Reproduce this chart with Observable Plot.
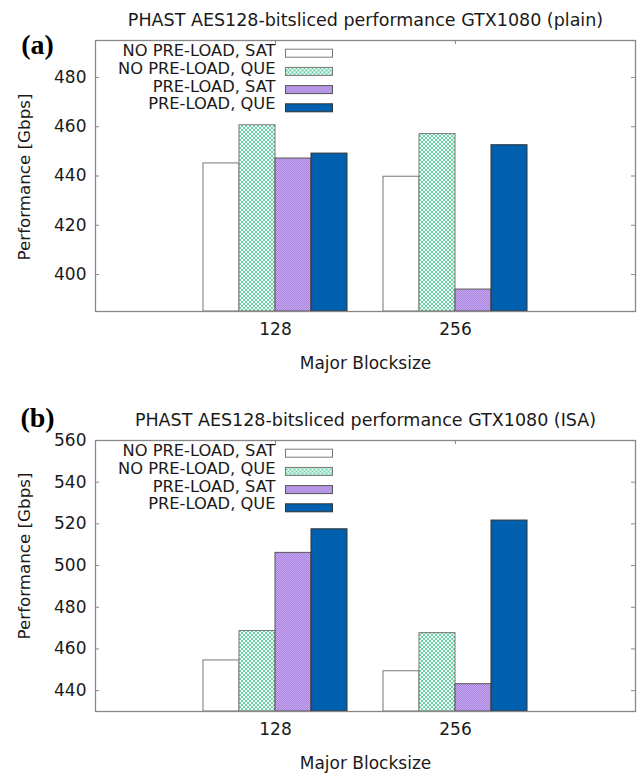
<!DOCTYPE html>
<html>
<head>
<meta charset="utf-8">
<script src="https://cdn.jsdelivr.net/npm/d3@7"></script>
<script src="https://cdn.jsdelivr.net/npm/@observablehq/plot@0.6"></script>
<style>
  body { margin: 0; background: #fff; width: 640px; }
  svg { display: block; }
</style>
</head>
<body>
<div id="chart"></div>
<script>
// ---------- data ----------
const blocksizes = ["128", "256"];
const seriesNames = ["NO PRE-LOAD, SAT", "NO PRE-LOAD, QUE", "PRE-LOAD, SAT", "PRE-LOAD, QUE"];

const plainNoPreloadSat = [445.1, 439.7];
const plainNoPreloadQue = [460.6, 457.0];
const plainPreloadSat   = [447.1, 393.9];
const plainPreloadQue   = [449.1, 452.5];

const isaNoPreloadSat = [454.5, 449.3];
const isaNoPreloadQue = [468.6, 467.6];
const isaPreloadSat   = [506.1, 443.1];
const isaPreloadQue   = [517.4, 521.6];

const plainYTicks = [400, 420, 440, 460, 480];
const isaYTicks = [440, 460, 480, 500, 520, 540, 560];
const plainYDomain = [385, 495];
const isaYDomain = [430, 560];

const plainTitle = "PHAST AES128-bitsliced performance GTX1080 (plain)";
const isaTitle = "PHAST AES128-bitsliced performance GTX1080 (ISA)";
const xLabel = "Major Blocksize";
const yLabel = "Performance [Gbps]";

// ---------- styling ----------
const FONT = "DejaVu Sans";
const TEXT = "#1a1a1a";
const AXIS = "#888";

function patternDefs(p) {
  // green crosshatch lattice (4x4) on white
  let green = `<rect width="4" height="4" fill="#f4fcf8"/>`;
  for (let i = 0; i < 4; i++) {
    green += `<rect x="${i}" y="${i}" width="1" height="1" fill="#6fd3aa"/>`;
    green += `<rect x="${3 - i}" y="${i}" width="1" height="1" fill="#6fd3aa"/>`;
  }
  // purple fine checker, low contrast
  const purple = `<rect width="2" height="2" fill="#c6a8f0"/>` +
    `<rect x="0" y="0" width="1" height="1" fill="#a983de"/>` +
    `<rect x="1" y="1" width="1" height="1" fill="#a983de"/>`;
  return `<pattern id="${p}-green" x="0" y="0" width="4" height="4" patternUnits="userSpaceOnUse">${green}</pattern>` +
         `<pattern id="${p}-purple" x="0" y="0" width="2" height="2" patternUnits="userSpaceOnUse">${purple}</pattern>`;
}

function makePanel(cfg) {
  const p = cfg.id;
  const fills = ["#ffffff", `url(#${p}-green)`, `url(#${p}-purple)`, "#0060ad"];
  const strokes = ["#777", "#777", "#555", "#333"];
  const rows = [];
  cfg.values.forEach((vals, s) => vals.forEach((v, g) => rows.push({g, s, value: v})));
  const nS = seriesNames.length;
  const barW = 1 / (nS + 1);
  const frameH = cfg.height - cfg.marginTop - cfg.marginBottom;
  const frameW = 640 - 95 - 5;

  const marks = [];
  // inward ticks on all four sides
  marks.push(Plot.tickY(cfg.yTicks, {y: d => d, stroke: AXIS, insetRight: frameW - 4}));
  marks.push(Plot.tickY(cfg.yTicks, {y: d => d, stroke: AXIS, insetLeft: frameW - 4}));
  marks.push(Plot.tickX([0, 1], {x: d => d, stroke: AXIS, insetBottom: frameH - 4}));
  marks.push(Plot.tickX([0, 1], {x: d => d, stroke: AXIS, insetTop: frameH - 4}));
  // clustered bars, one mark per series
  seriesNames.forEach((name, s) => {
    marks.push(Plot.rectY(rows.filter(r => r.s === s), {
      x1: r => r.g + (r.s - (nS - 1) / 2 - 0.5) * barW,
      x2: r => r.g + (r.s - (nS - 1) / 2 + 0.5) * barW,
      y1: cfg.yDomain[0],
      y2: "value",
      fill: fills[s],
      stroke: strokes[s],
      strokeWidth: 1
    }));
  });
  // frame
  marks.push(Plot.frame({stroke: AXIS, strokeWidth: 1.3}));
  // axes
  marks.push(Plot.axisY(cfg.yTicks, {tickSize: 0, tickPadding: 9, label: null, fontSize: 17, fill: TEXT}));
  marks.push(Plot.axisX([0, 1], {tickFormat: i => blocksizes[i], tickSize: 0, tickPadding: 11, label: null, fontSize: 17, fill: TEXT}));
  // legend (key box inside the frame)
  seriesNames.forEach((name, i) => {
    marks.push(Plot.text([name], {frameAnchor: "top-left", dx: 180, dy: 10 + 17.9 * i,
      textAnchor: "end", lineAnchor: "middle", fontSize: 16.3, fill: TEXT}));
    const top = 8.7 + 18.2 * i;
    marks.push(Plot.frame({fill: fills[i], stroke: strokes[i], strokeWidth: 1,
      insetLeft: 190, insetRight: frameW - 237, insetTop: top, insetBottom: frameH - top - 8}));
  });
  // titles & labels
  marks.push(Plot.text([cfg.title], {frameAnchor: "top", dy: -20, lineAnchor: "middle", fontSize: 17.5, fill: TEXT}));
  marks.push(Plot.text([cfg.panelLabel], {frameAnchor: "top-left", dx: -58, dy: cfg.panelDy,
    textAnchor: "middle", lineAnchor: "middle", fontFamily: "Liberation Serif", fontWeight: "bold", fontSize: 28, fill: "#000"}));
  marks.push(Plot.text([yLabel], {frameAnchor: "left", dx: -71, dy: cfg.yLabelDy, rotate: -90,
    textAnchor: "middle", lineAnchor: "middle", fontSize: 16.7, fill: TEXT}));
  marks.push(Plot.text([xLabel], {frameAnchor: "bottom", dy: 52.5, lineAnchor: "middle", fontSize: 17, fill: TEXT}));

  const svg = Plot.plot({
    width: 640,
    height: cfg.height,
    marginTop: cfg.marginTop,
    marginBottom: cfg.marginBottom,
    marginLeft: 95,
    marginRight: 5,
    style: {fontFamily: FONT, fontSize: "16px", color: TEXT, background: "#fff"},
    x: {type: "linear", domain: [-1, 2], axis: null},
    y: {domain: cfg.yDomain, axis: null},
    marks
  });
  d3.select(svg).insert("defs", ":first-child").html(patternDefs(p));
  return svg;
}

const chart = document.getElementById("chart");
chart.appendChild(makePanel({
  id: "pa", height: 387, marginTop: 40, marginBottom: 76,
  values: [plainNoPreloadSat, plainNoPreloadQue, plainPreloadSat, plainPreloadQue],
  yTicks: plainYTicks, yDomain: plainYDomain, title: plainTitle,
  panelLabel: "(a)", panelDy: 5, yLabelDy: 1
}));
chart.appendChild(makePanel({
  id: "pb", height: 388, marginTop: 53, marginBottom: 64,
  values: [isaNoPreloadSat, isaNoPreloadQue, isaPreloadSat, isaPreloadQue],
  yTicks: isaYTicks, yDomain: isaYDomain, title: isaTitle,
  panelLabel: "(b)", panelDy: -22, yLabelDy: -20
}));
</script>
</body>
</html>
